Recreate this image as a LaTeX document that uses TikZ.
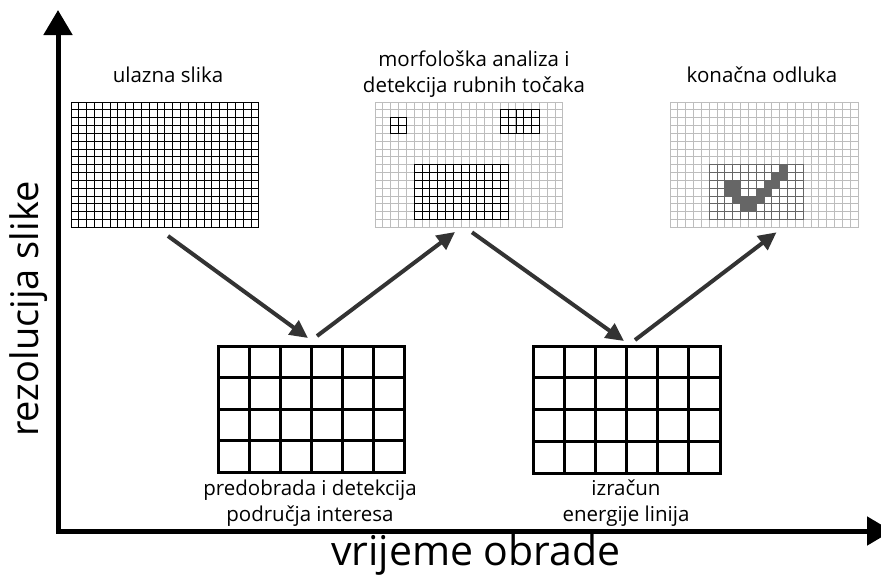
\documentclass[tikz,border=0pt]{standalone}
\usepackage{fontspec}
\setmainfont{Open Sans}
\usetikzlibrary{arrows.meta,calc}
\definecolor{arrowgray}{HTML}{333333}
\definecolor{lightline}{HTML}{BDBDBD}
\definecolor{checkgray}{HTML}{666666}
% #1 x0, #2 y0, #3 cols, #4 rows, #5 cell w, #6 cell h, #7 style
\newcommand{\drawcellgrid}[7]{%
  \foreach \i in {0,...,#3} {\draw[#7] ({#1+\i*#5},#2) -- ({#1+\i*#5},{#2+#4*#6});}
  \foreach \j in {0,...,#4} {\draw[#7] (#1,{#2+\j*#6}) -- ({#1+#3*#5},{#2+\j*#6});}
}
% #1 x0, #2 y0 of grid, #3 col, #4 row
\newcommand{\fillcell}[4]{%
  \fill[checkgray] ({#1+#3*7.833},{#2+#4*7.833}) rectangle +(7.833,7.833);}
\begin{document}
\begin{tikzpicture}[x=1pt,y=-1pt,
  gridframe/.style={inner sep=0pt, outer sep=0pt, draw=none, anchor=north west},
  fineblack/.style={line width=1pt, black, line cap=rect},
  finelight/.style={line width=1pt, lightline, line cap=rect},
  finegray/.style={line width=1pt, checkgray, line cap=rect},
  coarse/.style={line width=3pt, black, line cap=rect},
  flow/.style={line width=4pt, arrowgray, -{Triangle[length=18pt,width=17pt]}},
  axis/.style={line width=5pt, black, {Triangle[length=25pt,width=28pt]}-{Triangle[length=25pt,width=28pt]}},
  lbl/.style={font=\fontsize{20.5}{25.5}\selectfont, align=center, inner sep=0pt},
  biglbl/.style={inner sep=0pt}]
\useasboundingbox (0,0) rectangle (881,574);
\clip (0,0) rectangle (881,574);
\fill[white] (0,0) rectangle (881,574);

% grid frames
\node[gridframe, minimum width=188pt, minimum height=125.3pt] (g1) at (71,102) {};
\node[gridframe, minimum width=188pt, minimum height=125.3pt] (g2) at (375,102) {};
\node[gridframe, minimum width=188pt, minimum height=125.3pt] (g3) at (670,102) {};
\node[gridframe, minimum width=186pt, minimum height=126pt] (g4) at (218,346) {};
\node[gridframe, minimum width=187pt, minimum height=127pt] (g5) at (533,346) {};

% grid 1: input image
\drawcellgrid{71}{102}{24}{16}{7.833}{7.833}{fineblack}
% grid 2: morphology
\drawcellgrid{375}{102}{24}{16}{7.833}{7.833}{finelight}
\drawcellgrid{390.67}{117.67}{2}{2}{7.833}{7.833}{fineblack}
\drawcellgrid{500.33}{109.83}{5}{3}{7.833}{7.833}{fineblack}
\drawcellgrid{414.17}{164.67}{12}{7}{7.833}{7.833}{fineblack}
% grid 3: final decision
\drawcellgrid{670}{102}{24}{16}{7.833}{7.833}{finelight}
\foreach \c/\r in {9/0, 8/1, 9/1, 2/2, 3/2, 7/2, 8/2, 2/3, 3/3, 6/3, 7/3, 3/4, 4/4, 5/4, 6/4, 4/5, 5/5}
  {\fillcell{709.17}{164.67}{\c}{\r}}
\drawcellgrid{709.17}{164.67}{12}{7}{7.833}{7.833}{finegray}
% coarse grids
\drawcellgrid{218}{346}{6}{4}{31}{31.5}{coarse}
\drawcellgrid{533}{346}{6}{4}{31.17}{31.75}{coarse}

% labels
\node[lbl] (t1) at (168,75) {ulazna slika};
\node[lbl] (t2) at (474,74) {morfološka analiza i\\detekcija rubnih točaka};
\node[lbl] (t3) at (762,75) {konačna odluka};
\node[lbl] (t4) at (310,503) {predobrada i detekcija\\područja interesa};
\node[lbl] (t5) at (626,503) {izračun\\energije linija};

% flow arrows
\draw[flow] ($(g1.south)+(3,8.7)$) -- ($(g4.north)+(-3,-8)$);
\draw[flow] ($(g4.north)+(6,-10)$) -- ($(g2.south)+(-14,4.7)$);
\draw[flow] ($(g2.south)+(3,5)$) -- ($(g5.north)+(-2.5,-5)$);
\draw[flow] ($(g5.north)+(8.5,-6)$) -- ($(g3.south)+(12.5,5)$);

% axes
\coordinate (ytip) at (58,10);
\coordinate (origin) at (58,531);
\coordinate (xtip) at (892,531);
\draw[axis, line join=miter] (ytip) -- (origin) -- (xtip);
\node[biglbl, rotate=90, anchor=base, font=\fontsize{38}{45}\selectfont] (ylab) at (38,309) {rezolucija slike};
\node[biglbl, anchor=base, font=\fontsize{41}{48}\selectfont] (xlab) at (476,565) {vrijeme obrade};
\end{tikzpicture}
\end{document}
